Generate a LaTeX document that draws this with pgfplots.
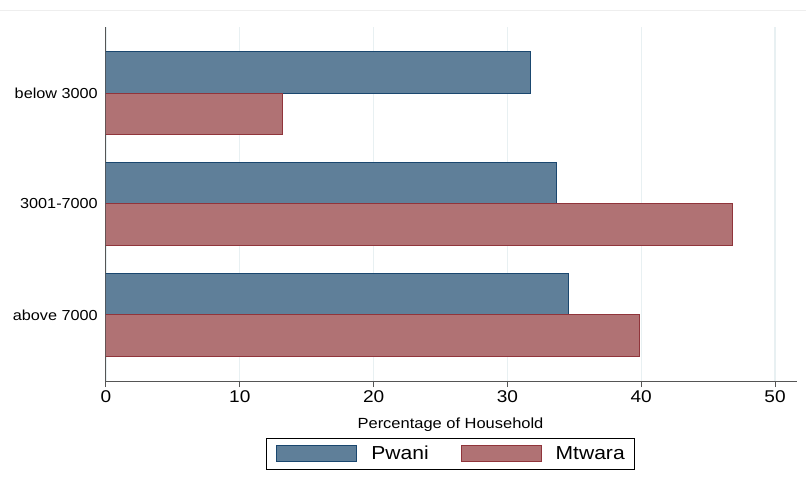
\documentclass[border=0pt]{standalone}
\usepackage{fontspec}
\setmainfont{Liberation Sans}[FakeStretch=1.12]
\usepackage{pgfplots}
\pgfplotsset{compat=1.18}
\definecolor{pwfill}{RGB}{95,127,153}
\definecolor{pwdraw}{RGB}{26,71,111}
\definecolor{mtfill}{RGB}{176,114,116}
\definecolor{mtdraw}{RGB}{144,53,59}
\definecolor{gridc}{RGB}{232,240,242}
\definecolor{axisc}{RGB}{85,85,85}
\definecolor{topline}{RGB}{238,238,238}
\begin{document}
\begin{tikzpicture}[x=1pt,y=1pt]
\useasboundingbox (0,0) rectangle (806,477);
\draw[color=topline, line width=0.8pt] (0,467) -- (806,467);
\begin{axis}[
  at={(106pt,96pt)}, anchor=south west,
  scale only axis, width=691pt, height=354pt,
  xbar, bar width=0.37,
  xmin=0, xmax=51.64, ymin=-0.595, ymax=2.595,
  axis x line=bottom, axis y line=left,
  axis line style={-, color=axisc, line width=1pt},
  xtick={0,10,20,30,40,50},
  ytick={0,1,2},
  yticklabels={above 7000,3001-7000,below 3000},
  ytick style={draw=none},
  xtick align=outside,
  xtick style={color=axisc, line width=1pt},
  major tick length=6pt,
  xmajorgrids,
  grid style={color=gridc, line width=1.3pt},
  /pgf/number format/assume math mode=true,
  xticklabel style={font=\fontsize{17}{17}\selectfont},
  yticklabel style={font=\fontsize{14.5}{14.5}\selectfont, inner sep=0pt, xshift=-5pt},
  xlabel={Percentage of Household},
  xlabel style={font=\fontsize{14.7}{14.7}\selectfont, at={(axis description cs:0.4986,0)}, anchor=center, yshift=-44pt},
  legend columns=2,
  legend image code/.code={\draw[#1, line width=1pt] (0pt,-8pt) rectangle (80pt,8pt);},
  legend style={at={(0.4986,-0.206)}, anchor=center, draw=black, line width=0.8pt,
    font=\fontsize{18.8}{18.8}\selectfont, inner xsep=10pt, inner ysep=7pt,
    nodes={inner xsep=0pt, inner ysep=0pt},
    /tikz/every odd column/.append style={column sep=14pt},
    /tikz/every even column/.append style={column sep=32pt}},
]
\addplot[fill=pwfill, draw=pwdraw, line width=1pt, bar shift=0.185] coordinates {(31.69,2) (33.63,1) (34.55,0)};
\addplot[fill=mtfill, draw=mtdraw, line width=1pt, bar shift=-0.185] coordinates {(13.2,2) (46.8,1) (39.9,0)};
\legend{Pwani,Mtwara}
\end{axis}
\end{tikzpicture}
\end{document}
